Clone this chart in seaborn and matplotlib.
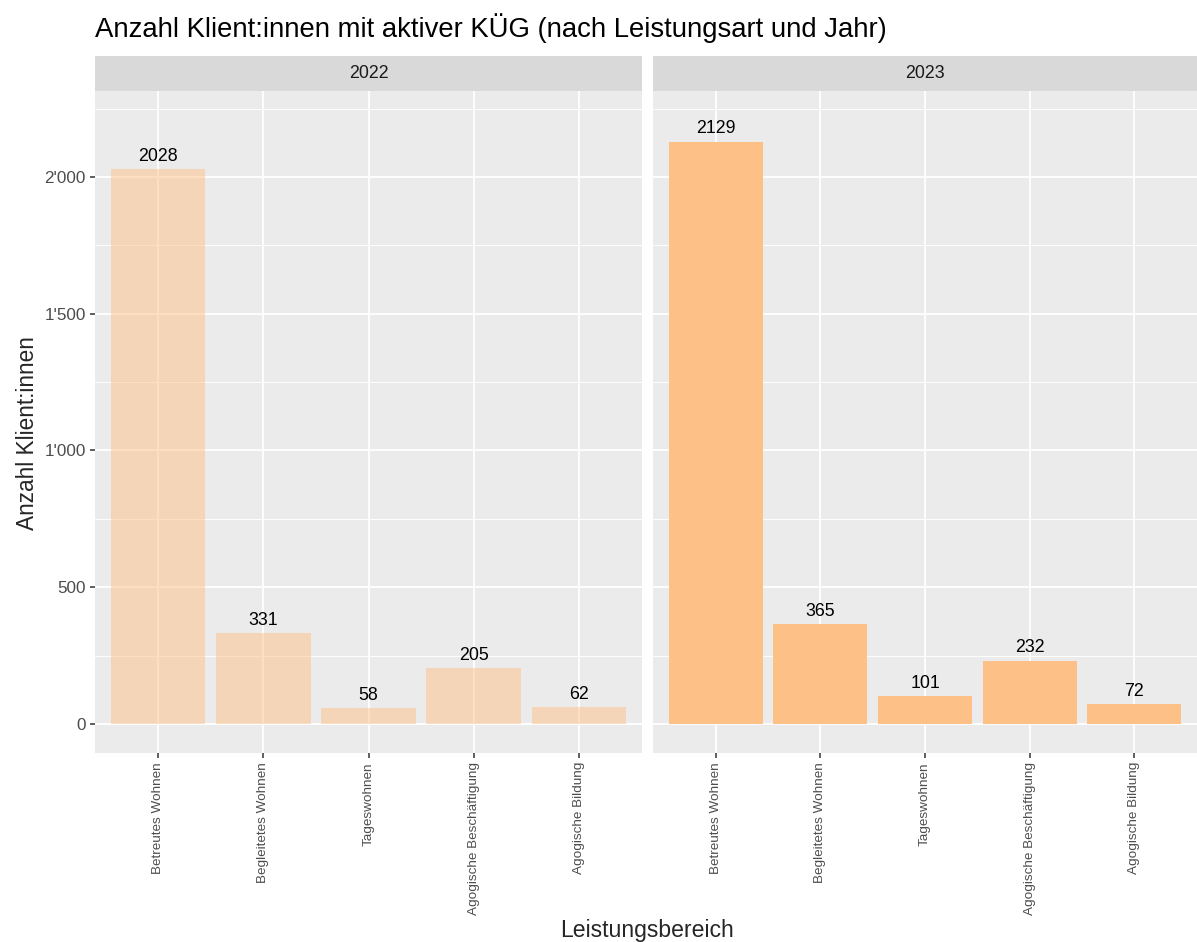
import pandas as pd
import matplotlib
matplotlib.use("Agg")
import matplotlib.pyplot as plt
from matplotlib.ticker import FuncFormatter, MultipleLocator
import seaborn as sns

# Daten
leistungen = ["Betreutes Wohnen", "Begleitetes Wohnen", "Tageswohnen",
              "Agogische Beschäftigung", "Agogische Bildung"]
jahre = ["2022", "2023"]
werte_2022 = [2028, 331, 58, 205, 62]
werte_2023 = [2129, 365, 101, 232, 72]
alpha_jahr = {"2022": 0.5, "2023": 1.0}

df = pd.DataFrame({
    "Leistungsbereich": leistungen * 2,
    "Jahr": ["2022"] * 5 + ["2023"] * 5,
    "Anzahl": werte_2022 + werte_2023,
})

sns.set_style("darkgrid")
plt.rcParams["font.family"] = ["Liberation Sans", "DejaVu Sans"]

W, H = 1197, 942
fig = plt.figure(figsize=(W / 100, H / 100), dpi=100)

panels = [(95, 642), (653, 1197)]
top, bottom = 91, 753
fill = "#FDC086"

def tausender(v, pos):
    return f"{int(v):,}".replace(",", "'")

axes = []
for i, jahr in enumerate(jahre):
    l, r = panels[i]
    ax = fig.add_axes([l / W, (H - bottom) / H, (r - l) / W, (bottom - top) / H])
    axes.append(ax)
    sub = df[df["Jahr"] == jahr]
    sns.barplot(data=sub, x="Leistungsbereich", y="Anzahl", order=leistungen,
                color=fill, alpha=alpha_jahr[jahr], width=0.9,
                saturation=1, linewidth=0, edgecolor="none", ax=ax, zorder=3)
    for c in ax.containers:
        ax.bar_label(c, labels=[str(v) for v in sub["Anzahl"]], padding=3,
                     fontsize=12.8, color="black")
    ax.set_facecolor("#EBEBEB")
    ax.set_xlim(-0.6, 4.6)
    ax.set_ylim(-106, 2314)
    ax.yaxis.set_major_locator(MultipleLocator(500))
    ax.yaxis.set_minor_locator(MultipleLocator(250))
    ax.yaxis.set_major_formatter(FuncFormatter(tausender))
    ax.grid(True, which="major", color="white", linewidth=1.3, zorder=0)
    ax.grid(True, which="minor", axis="y", color="white", linewidth=0.65, zorder=0)
    ax.set_axisbelow(True)
    for s in ax.spines.values():
        s.set_visible(False)
    ax.set_xlabel("")
    ax.set_ylabel("")
    ax.tick_params(axis="x", rotation=90, labelsize=9.7, labelcolor="#4D4D4D",
                   length=3.5, width=1.1, color="#333333", pad=3, bottom=True)
    ax.tick_params(axis="y", which="major", labelsize=12.3, labelcolor="#4D4D4D",
                   length=3.5, width=1.1, color="#333333", pad=3, left=True)
    ax.tick_params(axis="y", which="minor", length=0)
    if i > 0:
        ax.tick_params(axis="y", which="major", length=0, labelleft=False)

    # Facettenleiste
    strip = fig.add_axes([l / W, (H - 91) / H, (r - l) / W, 35 / H])
    strip.set_facecolor("#D9D9D9")
    strip.grid(False)
    strip.set_xticks([])
    strip.set_yticks([])
    for s in strip.spines.values():
        s.set_visible(False)
    strip.text(0.5, 0.5, jahr, ha="center", va="center", fontsize=12.8,
               color="#1A1A1A", transform=strip.transAxes)

fig.text(95 / W, (H - 28) / H, "Anzahl Klient:innen mit aktiver KÜG (nach Leistungsart und Jahr)",
         ha="left", va="center", fontsize=19.8, color="black")
fig.text(28 / W, (H - 433) / H, "Anzahl Klient:innen", rotation=90,
         ha="center", va="center", fontsize=16.3)
fig.text(647 / W, (H - 930) / H, "Leistungsbereich", ha="center", va="center",
         fontsize=16.6)

fig.savefig("out.png", dpi=100)
